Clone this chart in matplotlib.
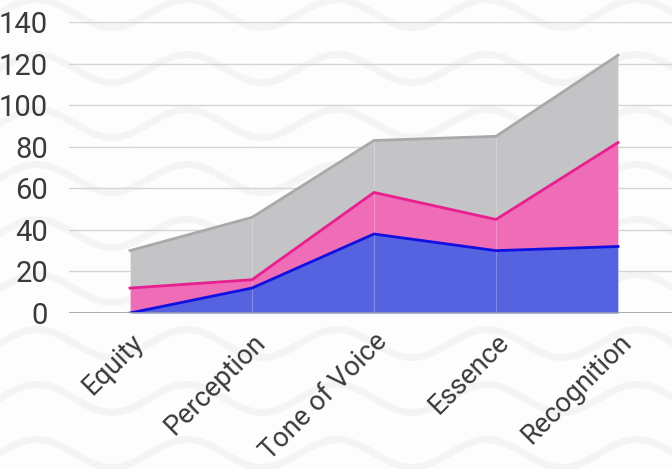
import numpy as np
import matplotlib
matplotlib.use("Agg")
import matplotlib.pyplot as plt

categories = ["Equity", "Perception", "Tone of Voice", "Essence", "Recognition"]
series_blue = [0, 12, 38, 30, 32]
series_pink = [12, 4, 20, 15, 50]
series_gray = [18, 30, 25, 40, 42]
y_ticks = [0, 20, 40, 60, 80, 100, 120, 140]

plt.rcParams['font.family'] = ['Roboto', 'DejaVu Sans']

fig = plt.figure(figsize=(6.72, 4.69), dpi=100)
fig.patch.set_facecolor('#fdfdfd')

# decorative wave background
bg = fig.add_axes([0, 0, 1, 1], zorder=0)
bg.set_xlim(0, 672)
bg.set_ylim(469, 0)
bg.axis('off')
xs = np.linspace(-20, 700, 500)
for row in range(-1, 10):
    c = 13.5 + row * 55
    bg.plot(xs, c - 14 * np.cos(2 * np.pi * (xs - 187) / 150), color='#f4f4f4', lw=5,
            solid_capstyle='round')

ax = fig.add_axes([69/672, 156/469, 610/672, 291/469], zorder=1)
ax.patch.set_alpha(0)
x = np.arange(len(categories))
b = np.array(series_blue, float)
p = np.array(series_pink, float)
g = np.array(series_gray, float)

ax.fill_between(x, 0, b, color='#5563e0', lw=0, zorder=2)
ax.fill_between(x, b, b + p, color='#ef6cb6', lw=0, zorder=2)
ax.fill_between(x, b + p, b + p + g, color='#c4c4c6', lw=0, zorder=2)
ax.plot(x, b + p + g, color='#a9a9ab', lw=2, zorder=3)
ax.plot(x, b + p, color='#e8208f', lw=2, zorder=3)
ax.plot(x, b, color='#1010e0', lw=2, zorder=3)

for xi in x:
    ax.axvline(xi, color='white', alpha=0.25, lw=0.8, zorder=2.5)

ax.set_xlim(-0.5, 4.5)
ax.set_ylim(0, 140)
ax.set_yticks(y_ticks)
ax.set_yticklabels([str(v) for v in y_ticks], fontsize=21, color='#3a3a3a')
ax.yaxis.grid(True, color='#d4d4d4', lw=1, zorder=1)
ax.set_axisbelow(True)
ax.tick_params(axis='y', length=0, pad=15)
ax.axhline(0, color='#a0a0a0', lw=1.2, zorder=4)

ax.set_xticks(x)
ax.set_xticklabels(categories, rotation=45, ha='right', va='top', rotation_mode='anchor',
                   fontsize=19.5, color='#3a3a3a')
ax.tick_params(axis='x', length=0, pad=11)
for s in ax.spines.values():
    s.set_visible(False)

fig.savefig('out.png', dpi=100, facecolor=fig.get_facecolor())
